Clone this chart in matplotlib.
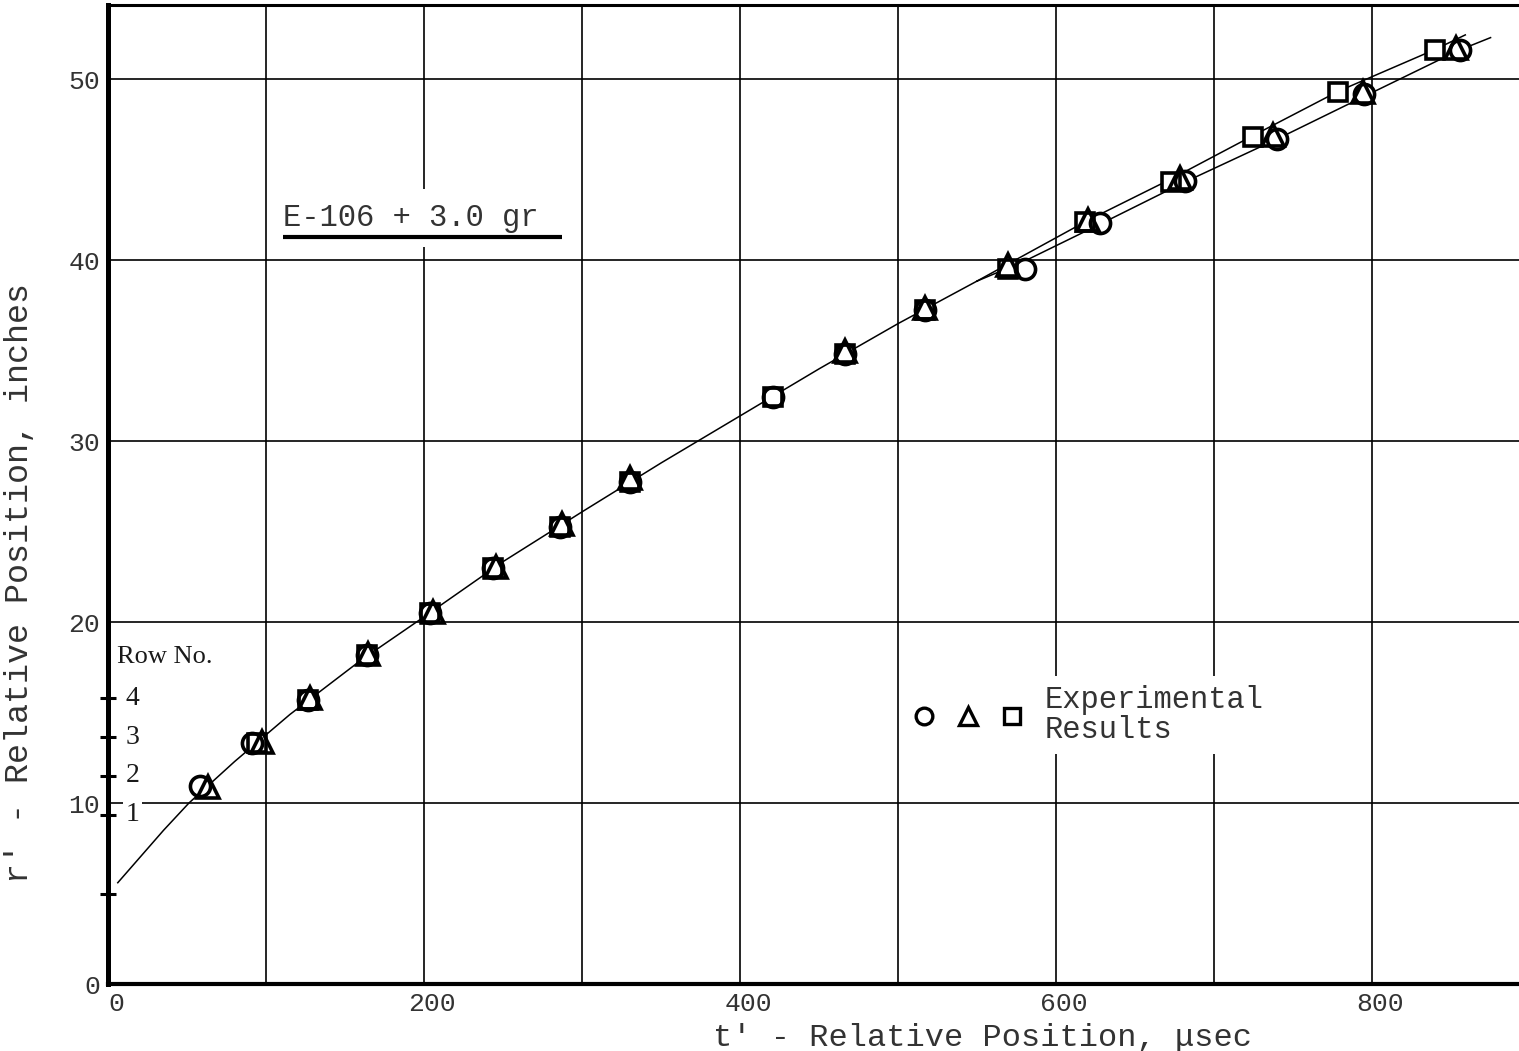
import matplotlib
matplotlib.use("Agg")
import matplotlib.pyplot as plt
import matplotlib.transforms as mtransforms
from matplotlib.lines import Line2D
from matplotlib.legend_handler import HandlerTuple

# ---- fitted curve (common part, then two branches) ----
curve_t = [6, 20, 35, 51, 80, 115, 160, 200, 250, 300, 350, 400, 450, 500, 550]
curve_r = [5.6, 7.0, 8.5, 10.0, 12.3, 14.9, 17.9, 20.3, 23.35, 26.1, 28.8, 31.4, 34.0, 36.5, 38.85]

upper_t = [550, 575, 620, 673, 725, 779, 840, 859]
upper_r = [38.85, 40.05, 42.2, 44.5, 46.9, 49.35, 51.65, 52.45]

lower_t = [550, 580, 628, 681, 740, 795, 855, 875]
lower_r = [38.85, 39.95, 42.0, 44.3, 46.7, 49.05, 51.6, 52.3]

# ---- experimental results ----
circle_t = [58.0, 90.8, 126.6, 163.5, 203.6, 243.6, 286.0, 330.2, 420.9, 466.3,
            516.9, 580.2, 627.7, 681.5, 739.5, 795.0, 855.5]
circle_r = [10.95, 13.3, 15.69, 18.18, 20.5, 22.97, 25.27, 27.75, 32.45, 34.84,
            37.24, 39.54, 42.04, 44.38, 46.72, 49.2, 51.6]

triangle_t = [63.0, 97.1, 127.5, 164.5, 205.5, 245.5, 287.0, 330.2, 466.3, 516.9,
              569.6, 620.0, 678.3, 737.3, 794.3, 853.4]
triangle_r = [10.9, 13.4, 15.8, 18.25, 20.55, 23.05, 25.4, 27.95, 35.0, 37.35,
              39.75, 42.2, 44.55, 46.9, 49.3, 51.75]

square_t = [94.0, 126.6, 163.5, 203.6, 243.6, 286.0, 330.2, 420.9, 466.3, 516.9,
            569.6, 618.2, 673.0, 724.7, 778.5, 839.7]
square_r = [13.3, 15.69, 18.18, 20.5, 22.97, 25.27, 27.75, 32.45, 34.84, 37.24,
            39.54, 42.1, 44.33, 46.81, 49.3, 51.6]

# ---- axes ticks ----
x_ticks = [0, 100, 200, 300, 400, 500, 600, 700, 800]
x_ticklabels = ["0", "", "200", "", "400", "", "600", "", "800"]
y_ticks = [0, 10, 20, 30, 40, 50]
y_ticklabels = ["0", "10", "20", "30", "40", "50"]
row_ticks = [5, 9.35, 11.5, 13.65, 15.8]
row_numbers = ["", "1", "2", "3", "4"]

MONO = "Liberation Mono"
SERIF = "Liberation Serif"
INK = "#1a1a1a"
TXT = "#333333"

fig = plt.figure(figsize=(15.19, 10.51), dpi=100)
ax = fig.add_axes([0.0713, 0.0637, 0.9287, 0.9315])
ax.set_xlim(0, 893)
ax.set_ylim(0, 54.1)

# frame
ax.spines["right"].set_visible(False)
ax.spines["left"].set_linewidth(3.6)
ax.spines["bottom"].set_linewidth(3.0)
ax.spines["top"].set_linewidth(2.2)
for s in ("left", "bottom", "top"):
    ax.spines[s].set_zorder(6)

ax.set_xticks(x_ticks)
ax.set_xticklabels(x_ticklabels, fontfamily=MONO, fontsize=19, color=TXT)
ax.set_yticks(y_ticks)
ax.set_yticklabels(y_ticklabels, fontfamily=MONO, fontsize=19, color=TXT)
ax.tick_params(axis="both", which="major", length=0)
ax.tick_params(axis="x", pad=6)
ax.tick_params(axis="y", pad=6)
ax.set_yticks(row_ticks, minor=True)
ax.tick_params(axis="y", which="minor", direction="inout", length=11, width=2.2, color="black")
ax.grid(True, which="major", color="black", linewidth=1.2)
ax.set_axisbelow(True)

# x tick labels sit slightly right of their grid lines
shift = mtransforms.ScaledTranslation(8 / 100, 0, fig.dpi_scale_trans)
for lab in ax.get_xticklabels():
    lab.set_transform(lab.get_transform() + shift)

# fitted curves
ax.plot(curve_t, curve_r, color="black", lw=1.1, zorder=2)
ax.plot(upper_t, upper_r, color="black", lw=1.1, zorder=2)
ax.plot(lower_t, lower_r, color="black", lw=1.1, zorder=2)

# markers: white bodies first, then all outlines on top so overlapping symbols stay visible
series = [(square_t, square_r, "s", 13.5), (triangle_t, triangle_r, "^", 15.5), (circle_t, circle_r, "o", 14.5)]
for t, r, m, ms in series:
    ax.plot(t, r, ls="none", marker=m, ms=ms, mfc="white", mec="white", mew=0, zorder=3)
for t, r, m, ms in series:
    ax.plot(t, r, ls="none", marker=m, ms=ms, mfc="none", mec="black", mew=2.6, zorder=4)

# row numbers along the left axis
for rt, lab in zip(row_ticks, row_numbers):
    if lab:
        ax.text(11, rt, lab, fontfamily=SERIF, fontsize=20, color=INK,
                ha="left", va="center", zorder=5,
                bbox=dict(fc="white", ec="none", pad=2))
ax.text(5.5, 18.1, "Row No.", fontfamily=SERIF, fontsize=19, color=INK,
        ha="left", va="center", zorder=5)

# mixture designation with underline
ax.text(0.1238, 0.7824, "E-106 + 3.0 gr", transform=ax.transAxes,
        fontfamily=MONO, fontsize=22, color=TXT, ha="left", va="center", zorder=5,
        bbox=dict(fc="white", ec="none", pad=10))
ax.plot([0.1238, 0.3215], [0.763, 0.763], transform=ax.transAxes,
        color="black", lw=3, solid_capstyle="butt", zorder=6)

# legend
handles = (Line2D([], [], ls="none", marker="o", ms=12, mfc="white", mec="black", mew=2.4),
           Line2D([], [], ls="none", marker="^", ms=13, mfc="white", mec="black", mew=2.4),
           Line2D([], [], ls="none", marker="s", ms=12, mfc="white", mec="black", mew=2.4))
leg = ax.legend([handles], ["Experimental\nResults"],
                handler_map={tuple: HandlerTuple(ndivide=None, pad=0.7)},
                loc="center left", bbox_to_anchor=(0.553, 0.275),
                prop={"family": MONO, "size": 22}, frameon=True, fancybox=False,
                edgecolor="none", facecolor="white", framealpha=1.0,
                handlelength=3.6, handletextpad=0.7, borderpad=0.3)
for txt in leg.get_texts():
    txt.set_color(TXT)
    txt.set_linespacing(1.0)
leg.set_zorder(7)

# axis labels
ax.set_xlabel("t' - Relative Position, \u03bcsec", fontfamily=MONO, fontsize=23, color=TXT)
ax.xaxis.set_label_coords(0.62, -0.04)
ax.xaxis.label.set_va("top")
ax.set_ylabel("r' - Relative Position, inches", fontfamily=MONO, fontsize=24, color=TXT)
ax.yaxis.set_label_coords(-0.052, 0.41)

fig.savefig("out.png", dpi=100, facecolor="white")
